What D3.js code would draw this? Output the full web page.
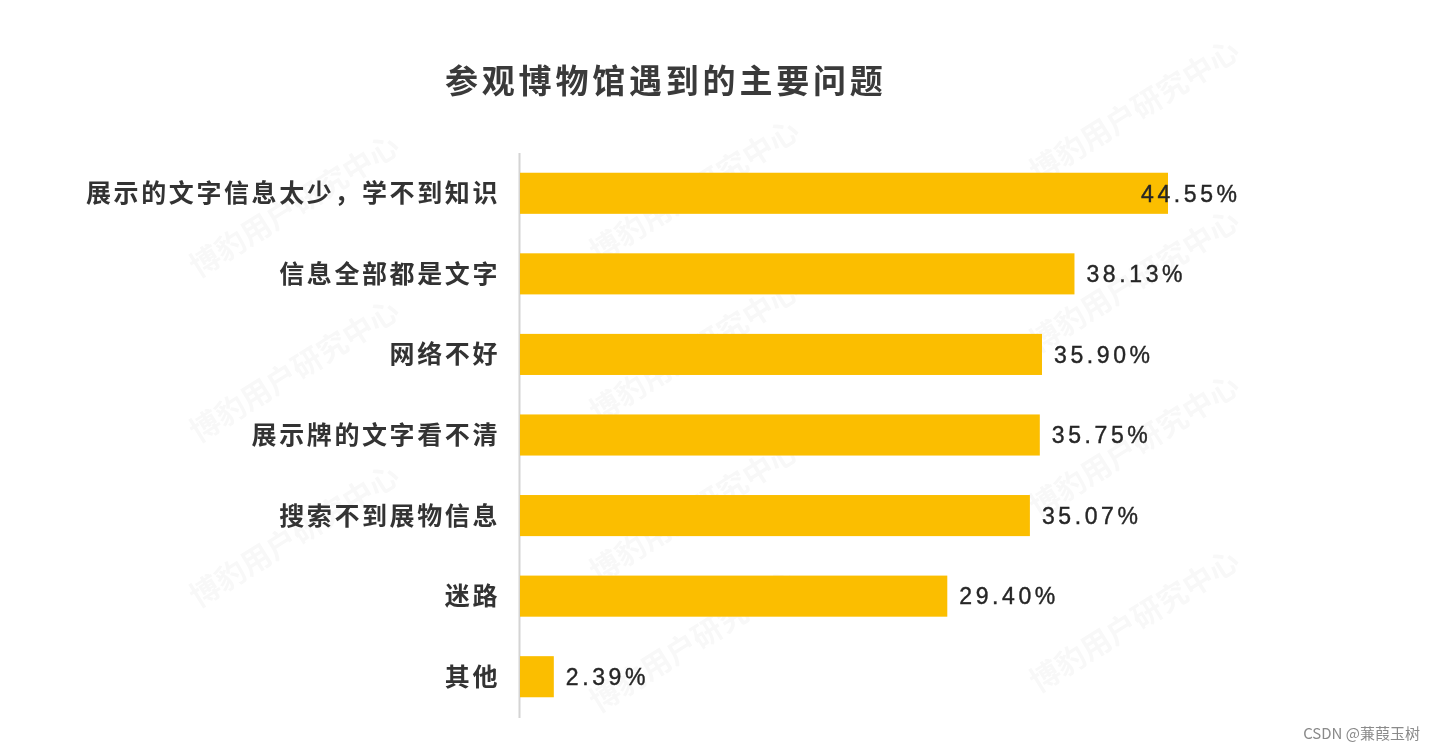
<!DOCTYPE html>
<html><head><meta charset="utf-8">
<script src="https://cdn.jsdelivr.net/npm/d3@7/dist/d3.min.js"></script>
<style>html,body{margin:0;padding:0;background:#fff;}svg{display:block;}</style>
</head><body>
<svg id="chart" width="1434" height="752"></svg>
<script>
const title = "参观博物馆遇到的主要问题";
const categories = ["展示的文字信息太少，学不到知识","信息全部都是文字","网络不好","展示牌的文字看不清","搜索不到展物信息","迷路","其他"];
const values = [44.55, 38.13, 35.90, 35.75, 35.07, 29.40, 2.39];
const valueLabels = ["44.55%","38.13%","35.90%","35.75%","35.07%","29.40%","2.39%"];
const watermarkText = "博豹用户研究中心";
const footer = "CSDN @蒹葭玉树";

const svg = d3.select("#chart");
const x0 = 519;
const x = d3.scaleLinear().domain([0, 44.55]).range([x0, 1168]);
const y = d3.scaleBand().domain(categories).range([153, 717]).paddingInner(0.49).paddingOuter(0.245);

// watermark (faint)
const wm = svg.append("g").attr("fill", "#000").attr("opacity", 0.03)
  .attr("font-family", "'Noto Sans CJK SC'").attr("font-weight", "bold").attr("font-size", 30);
const wmPos = [[300,215],[700,200],[1140,120],[300,380],[700,360],[1140,290],[300,545],[700,520],[1140,455],[700,650],[1140,630]];
wmPos.forEach(p => {
  wm.append("text").attr("transform", `translate(${p[0]},${p[1]}) rotate(-32)`)
    .attr("text-anchor", "middle").text(watermarkText);
});

// title
svg.append("text").attr("x", 445).attr("y", 93)
  .attr("font-family", "'Noto Sans CJK SC'").attr("font-weight", "bold")
  .attr("font-size", 33).attr("letter-spacing", 3.8).attr("fill", "#3a3a3a").text(title);

// axis line
svg.append("line").attr("x1", x0 + 0.5).attr("x2", x0 + 0.5).attr("y1", 153).attr("y2", 718)
  .attr("stroke", "#d4d4d4").attr("stroke-width", 2);

// bars
svg.append("g").selectAll("rect").data(values).join("rect")
  .attr("x", x0 + 1).attr("y", (d, i) => y(categories[i]))
  .attr("width", d => x(d) - x0 - 1).attr("height", y.bandwidth())
  .attr("fill", "#FBBE00");

// category labels
svg.append("g").selectAll("text").data(categories).join("text")
  .attr("x", 500).attr("y", d => y(d) + y.bandwidth() / 2)
  .attr("dy", "0.36em").attr("text-anchor", "end")
  .attr("font-family", "'Noto Sans CJK SC'").attr("font-weight", "bold")
  .attr("font-size", 25).attr("letter-spacing", 2.6).attr("fill", "#333")
  .text(d => d);

// value labels
svg.append("g").selectAll("text").data(values).join("text")
  .attr("x", d => Math.min(x(d) + 12, 1141)).attr("y", (d, i) => y(categories[i]) + y.bandwidth() / 2)
  .attr("dy", "0.36em")
  .attr("font-family", "'Liberation Sans', Arial").attr("font-size", 23)
  .attr("letter-spacing", 3.6).attr("fill", "#262626")
  .attr("stroke", "#262626").attr("stroke-width", 0.4)
  .text((d, i) => valueLabels[i]);

// footer
svg.append("text").attr("x", 1420).attr("y", 739).attr("text-anchor", "end")
  .attr("font-family", "'Noto Sans CJK SC'").attr("font-size", 15).attr("fill", "#8a8a8a").text(footer);
</script>
</body></html>
